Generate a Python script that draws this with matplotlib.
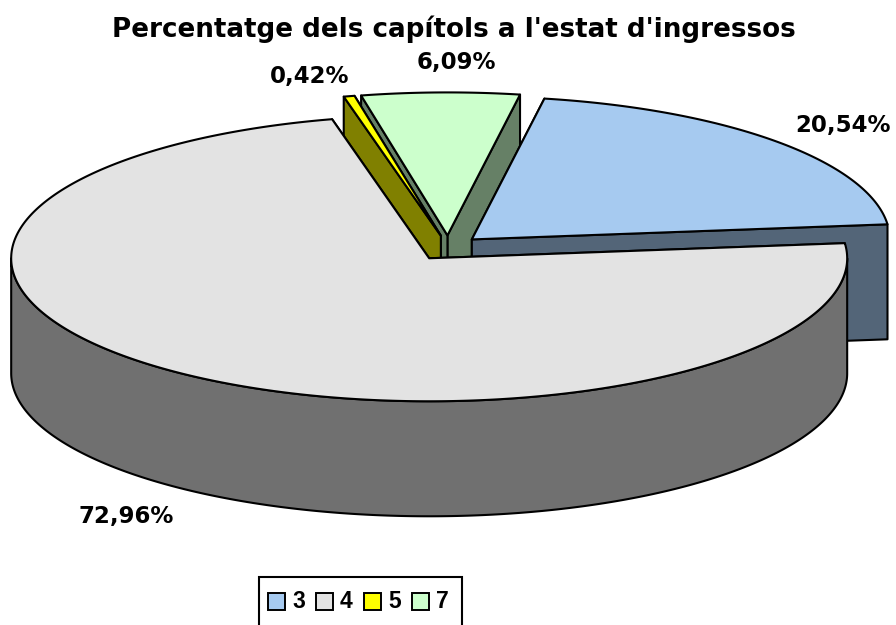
import numpy as np
import matplotlib
matplotlib.use("Agg")
import matplotlib.pyplot as plt
from matplotlib.patches import Polygon, Rectangle

# Data
chapters = ["3", "4", "5", "7"]
shares = [20.54, 72.96, 0.42, 6.09]
colors = ["#A6CAF0", "#E3E3E3", "#FFFF00", "#CCFFCC"]
sides = ["#536578", "#707070", "#808000", "#668066"]
title = "Percentatge dels capítols a l'estat d'ingressos"

# Layout, in pixels of the 896x625 canvas
CX, CY = 448, 248          # pie centre before the explosion
RX, RY = 418, 143          # radii of the projected disc
DEPTH = 115                # thickness of the disc
EXPLODE_X, EXPLODE_Y = 0.078, 0.088
START = 80.0               # angle where the first slice begins, going clockwise
DRAW_ORDER = [3, 0, 2, 1]  # back to front
LABEL_POS = [(843, 125.5), (126, 516.5), (310, 76), (456, 62)]


def rim_points(ox, oy, a0, a1):
    t = np.radians(np.linspace(a0, a1, max(int(abs(a1 - a0) * 2), 4)))
    return np.column_stack([ox + RX * np.cos(t), oy - RY * np.sin(t)])


def draw_slice(ax, a0, a1, top, side):
    """One exploded slice going clockwise from a0 to a1 (degrees)."""
    mid = np.radians((a0 + a1) / 2)
    ox = CX + EXPLODE_X * RX * np.cos(mid)
    oy = CY - EXPLODE_Y * RY * np.sin(mid)
    rim = rim_points(ox, oy, a0, a1)
    apex = np.array([ox, oy])
    down = np.array([0, DEPTH])

    kw = dict(edgecolor="black", linewidth=1.5, joinstyle="round")
    # cut faces (the lower one last), then the front of the outer wall, then the top
    for p in sorted((rim[0], rim[-1]), key=lambda q: q[1]):
        ax.add_patch(Polygon([apex, p, p + down, apex + down], facecolor=side, **kw))
    w0, w1 = min(a0, 0), max(a1, -180)
    if w0 > w1:
        front = rim_points(ox, oy, w0, w1)
        wall = np.vstack([front, (front + down)[::-1]])
        ax.add_patch(Polygon(wall, facecolor=side, **kw))
    ax.add_patch(Polygon(np.vstack([apex, rim]), facecolor=top, **kw))


fig = plt.figure(figsize=(8.96, 6.25), dpi=100)
ax = fig.add_axes([0, 0, 1, 1])
ax.set_xlim(0, 896)
ax.set_ylim(625, 0)
ax.axis("off")

# slice angles from the shares
total = sum(shares)
spans = [s / total * 360 for s in shares]
ends = START - np.cumsum(spans)
starts = np.concatenate([[START], ends[:-1]])

for i in DRAW_ORDER:
    draw_slice(ax, starts[i], ends[i], colors[i], sides[i])

ax.text(454, 29, title, ha="center", va="center", fontsize=18.8,
        fontweight="bold", family="DejaVu Sans")

for val, (x, y) in zip(shares, LABEL_POS):
    ax.text(x, y, f"{val:.2f}%".replace(".", ","), ha="center", va="center",
            fontsize=16.5, fontweight="bold", family="DejaVu Sans")

# legend box runs off the bottom of the picture
ax.add_patch(Rectangle((259, 577), 203, 70, facecolor="white", edgecolor="black",
                       linewidth=1.5))
for i, name in enumerate(chapters):
    x = 268 + 48 * i
    ax.add_patch(Rectangle((x, 593), 16.5, 16.5, facecolor=colors[i], edgecolor="black",
                           linewidth=1.4))
    ax.text(x + 24, 601.5, name, ha="left", va="center", fontsize=16.5,
            fontweight="bold", family="Liberation Sans")

fig.savefig("out.png", dpi=100)
